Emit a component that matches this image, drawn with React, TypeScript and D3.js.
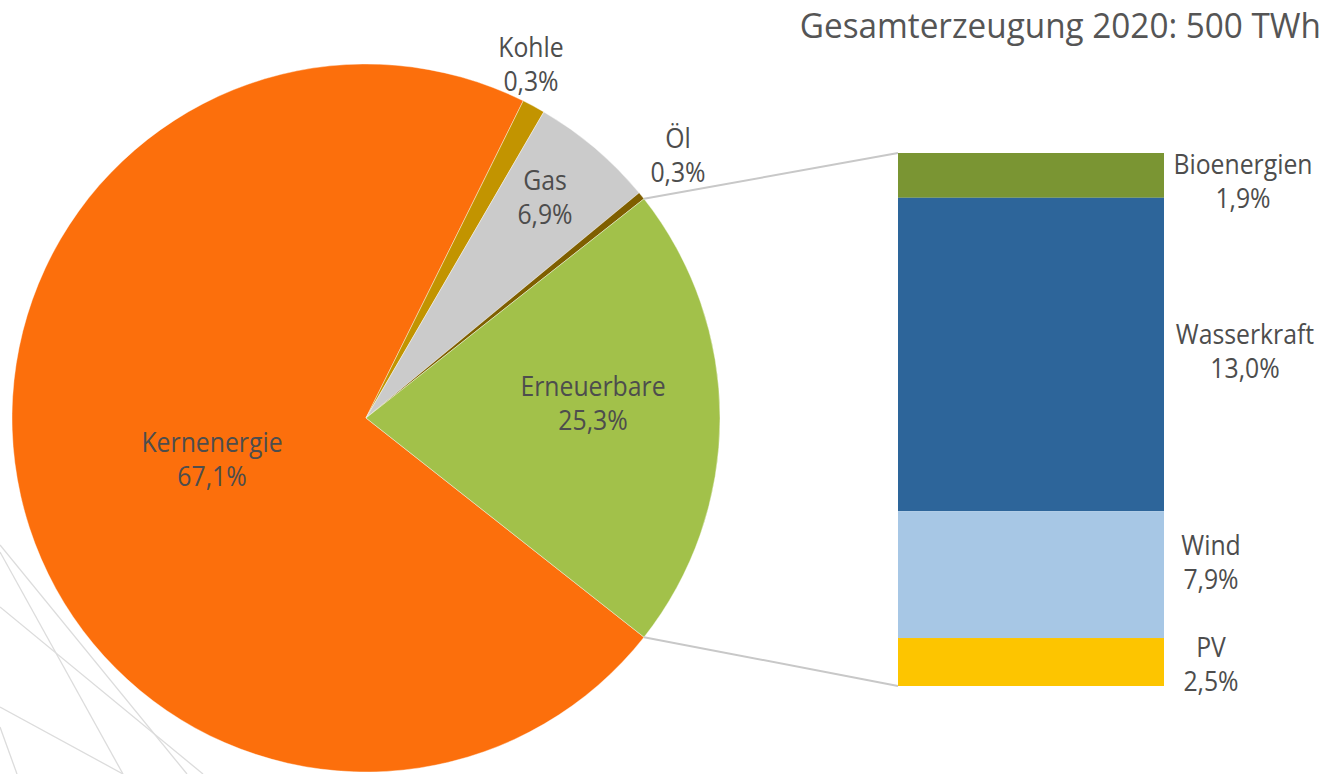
import React from "react";
import * as d3 from "d3";

// Pie categories (drawn shares, printed labels from the picture)
const pieCategories = ["Kernenergie", "Kohle", "Gas", "Öl", "Erneuerbare"];
const pieShares = [71.7, 1.05, 5.65, 0.35, 21.25];
const pieLabels = ["67,1%", "0,3%", "6,9%", "0,3%", "25,3%"];
const pieColors = ["#FC6F0C", "#C29400", "#CBCBCB", "#7F5F00", "#A2C14A"];

// Bar of renewables (drawn shares of the bar, printed labels)
const barCategories = ["Bioenergien", "Wasserkraft", "Wind", "PV"];
const barShares = [8.4, 58.8, 23.8, 9.0];
const barLabels = ["1,9%", "13,0%", "7,9%", "2,5%"];
const barColors = ["#7A9533", "#2D659A", "#A7C7E5", "#FDC500"];

const title = "Gesamterzeugung 2020: 500 TWh";

// decorative background strokes (lower-left corner)
const decoLines: [number, number, number, number][] = [
  [0, 545, 187, 774],
  [0, 552, 123, 774],
  [0, 607, 203, 774],
  [0, 707, 123, 774],
  [0, 727, 17, 774],
];

const W = 1328;
const H = 774;
const cx = 366;
const cy = 418;
const R = 354;
const barX0 = 898;
const barX1 = 1164;
const barTop = 153;
const barBottom = 686;

const textColor = "#4D4D4D";
const labelFont = "'Open Sans', sans-serif";
const labelSize = 28;
const labelScaleX = 0.885;
const lineGap = 34;

// label placement (center x, first baseline)
const pieLabelPos: [number, number][] = [
  [212, 452],
  [531, 57],
  [545, 190],
  [678, 148],
  [593, 396],
];
const barLabelX = [1243, 1245, 1211, 1211];
const barLabelY = [174, 344, 555, 657];

function Label({ x, y, lines }: { x: number; y: number; lines: string[] }) {
  return (
    <g>
      {lines.map((t, i) => (
        <text
          key={i}
          transform={`translate(${x},${y + i * lineGap}) scale(${labelScaleX},1)`}
          textAnchor="middle"
          fontFamily={labelFont}
          fontSize={labelSize}
          fontWeight={400}
          fill={textColor}
        >
          {t}
        </text>
      ))}
    </g>
  );
}

export default function App() {
  const total = d3.sum(pieShares);
  const ernFrac = pieShares[4] / total;
  const startAngle = Math.PI / 2 + ernFrac * Math.PI;
  const pie = d3
    .pie<number>()
    .sort(null)
    .value((d) => d)
    .startAngle(startAngle)
    .endAngle(startAngle + 2 * Math.PI);
  const arcs = pie(pieShares);
  const arcGen = d3.arc<d3.PieArcDatum<number>>().innerRadius(0).outerRadius(R);

  const ern = arcs[4];
  const pt = (a: number) => [cx + R * Math.sin(a), cy - R * Math.cos(a)];
  const [ex0, ey0] = pt(ern.startAngle);
  const [ex1, ey1] = pt(ern.endAngle);

  const y = d3.scaleLinear().domain([0, d3.sum(barShares)]).range([barTop, barBottom]);
  const cum = d3.cumsum(barShares);

  return (
    <svg width={W} height={H} style={{ position: "absolute", left: 0, top: 0 }}>
      <rect width={W} height={H} fill="#fff" />
      {decoLines.map((l, i) => (
        <line key={i} x1={l[0]} y1={l[1]} x2={l[2]} y2={l[3]} stroke="#DCDCDC" strokeWidth={1.3} />
      ))}
      <g transform={`translate(${cx},${cy})`}>
        {arcs.map((a, i) => (
          <path key={i} d={arcGen(a) || ""} fill={pieColors[i]} stroke="#fff" strokeWidth={0.4} />
        ))}
      </g>
      <line x1={ex0} y1={ey0} x2={barX0} y2={barTop} stroke="#C8C8C8" strokeWidth={2} />
      <line x1={ex1} y1={ey1} x2={barX0} y2={barBottom} stroke="#C8C8C8" strokeWidth={2} />
      {barShares.map((v, i) => (
        <rect
          key={i}
          x={barX0}
          y={y(cum[i] - v)}
          width={barX1 - barX0}
          height={y(cum[i]) - y(cum[i] - v)}
          fill={barColors[i]}
        />
      ))}
      {pieCategories.map((c, i) => (
        <Label key={c} x={pieLabelPos[i][0]} y={pieLabelPos[i][1]} lines={[c, pieLabels[i]]} />
      ))}
      {barCategories.map((c, i) => (
        <Label key={c} x={barLabelX[i]} y={barLabelY[i]} lines={[c, barLabels[i]]} />
      ))}
      <text
        transform={`translate(1321,38) scale(0.965,1)`}
        textAnchor="end"
        fontFamily="'Open Sans', sans-serif"
        fontSize={34.5}
        fill="#555555"
      >
        {title}
      </text>
    </svg>
  );
}
